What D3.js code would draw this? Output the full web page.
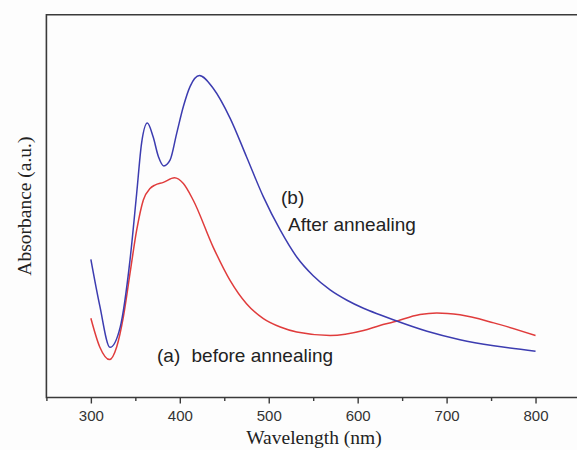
<!DOCTYPE html>
<html>
<head>
    <meta charset="UTF-8" />
    <title>Absorbance</title>
    <style>
        body { margin: 0; background-color: #fdfdfd; }
        svg { background-color: #fdfdfd; display: block; }
        .frame { stroke: #3a3a3a; stroke-width: 1.6; fill: none; }
        .tick-label { font-family: "Liberation Sans", Arial, sans-serif; font-size: 15px; fill: #333; }
        .axis-title { font-family: "Liberation Serif", "Times New Roman", serif; font-size: 19.5px; fill: #222; }
        .note { font-family: "Liberation Sans", Arial, sans-serif; font-size: 19px; fill: #222; }
    </style>
    <script src="https://cdn.jsdelivr.net/npm/d3@7"></script>
</head>
<body>
<div id="chart"></div>
<script>
    // values (absorbance in arbitrary units)
    let wlAfter = [300, 310, 321.5, 333, 344, 351.5, 357, 363.5, 370, 376, 382, 389, 396.5, 404, 411.5, 422, 437.5, 456.5, 475, 494, 513, 531.5, 550, 569, 588, 606.5, 625, 640, 678, 715, 753, 800];
    let absAfter = [0.361, 0.24, 0.131, 0.184, 0.359, 0.533, 0.664, 0.717, 0.681, 0.629, 0.605, 0.620, 0.690, 0.760, 0.812, 0.841, 0.808, 0.730, 0.629, 0.524, 0.437, 0.367, 0.318, 0.281, 0.254, 0.233, 0.216, 0.203, 0.173, 0.151, 0.135, 0.121];

    let wlBefore = [300, 310, 321, 329, 336.5, 344, 351.5, 359, 366.5, 372, 381.5, 394, 404, 415, 437.5, 456.5, 475, 494, 513, 531.5, 569, 606.5, 625, 640, 670, 689, 715, 753, 800];
    let absBefore = [0.207, 0.132, 0.099, 0.132, 0.210, 0.324, 0.437, 0.516, 0.546, 0.555, 0.562, 0.574, 0.559, 0.516, 0.393, 0.306, 0.245, 0.206, 0.184, 0.171, 0.162, 0.175, 0.188, 0.197, 0.217, 0.221, 0.216, 0.195, 0.162];

    let majorTicks = [300, 400, 500, 600, 700, 800];
    let minorTicks = [250, 350, 450, 550, 650, 750, 850];

    let width = 577, height = 450;
    let svg = d3.select("#chart").append("svg")
        .attr("width", width)
        .attr("height", height);

    // right edge of the frame falls just outside the picture
    let x = d3.scaleLinear().domain([250, 850]).range([46.4, 580]);
    let y = d3.scaleLinear().domain([0, 1]).range([397.5, 14.7]);

    // frame: top, left, bottom
    svg.append("path")
        .attr("class", "frame")
        .attr("d", `M${x(850)},${y(1)}H${x(250)}V${y(0)}H${x(850)}`);

    // x axis ticks (outward)
    let xAxis = d3.axisBottom(x)
        .tickValues(majorTicks)
        .tickSize(6)
        .tickPadding(7)
        .tickFormat(d3.format("d"));
    let gx = svg.append("g")
        .attr("transform", `translate(0,${y(0)})`)
        .call(xAxis);
    gx.select(".domain").remove();
    gx.selectAll(".tick line").attr("stroke", "#3a3a3a").attr("stroke-width", 1.4);
    gx.selectAll(".tick text").attr("class", "tick-label").attr("font-size", null).attr("font-family", null);

    let gMinor = svg.append("g")
        .attr("transform", `translate(0,${y(0)})`)
        .call(d3.axisBottom(x).tickValues(minorTicks).tickSize(3.5).tickFormat(""));
    gMinor.select(".domain").remove();
    gMinor.selectAll(".tick line").attr("stroke", "#3a3a3a").attr("stroke-width", 1.4);

    // axis titles
    svg.append("text")
        .attr("class", "axis-title")
        .attr("x", 314)
        .attr("y", 444)
        .attr("text-anchor", "middle")
        .text("Wavelength (nm)");

    svg.append("text")
        .attr("class", "axis-title")
        .attr("transform", `translate(31,${(y(0) + y(1)) / 2}) rotate(-90)`)
        .attr("text-anchor", "middle")
        .text("Absorbance (a.u.)");

    // curves
    let line = d3.line()
        .x(d => x(d[0]))
        .y(d => y(d[1]))
        .curve(d3.curveMonotoneX);

    svg.append("path")
        .datum(d3.zip(wlBefore, absBefore))
        .attr("fill", "none")
        .attr("stroke", "#e03c3c")
        .attr("stroke-width", 1.5)
        .attr("d", line);

    svg.append("path")
        .datum(d3.zip(wlAfter, absAfter))
        .attr("fill", "none")
        .attr("stroke", "#3c3cb0")
        .attr("stroke-width", 1.5)
        .attr("d", line);

    // annotations
    svg.append("text").attr("class", "note").attr("x", 281).attr("y", 204).text("(b)");
    svg.append("text").attr("class", "note").attr("x", 288).attr("y", 230.5).text("After annealing");
    svg.append("text").attr("class", "note").attr("x", 157).attr("y", 361.5).text("(a)");
    svg.append("text").attr("class", "note").attr("x", 191.5).attr("y", 361.5).text("before annealing");
</script>
</body>
</html>
